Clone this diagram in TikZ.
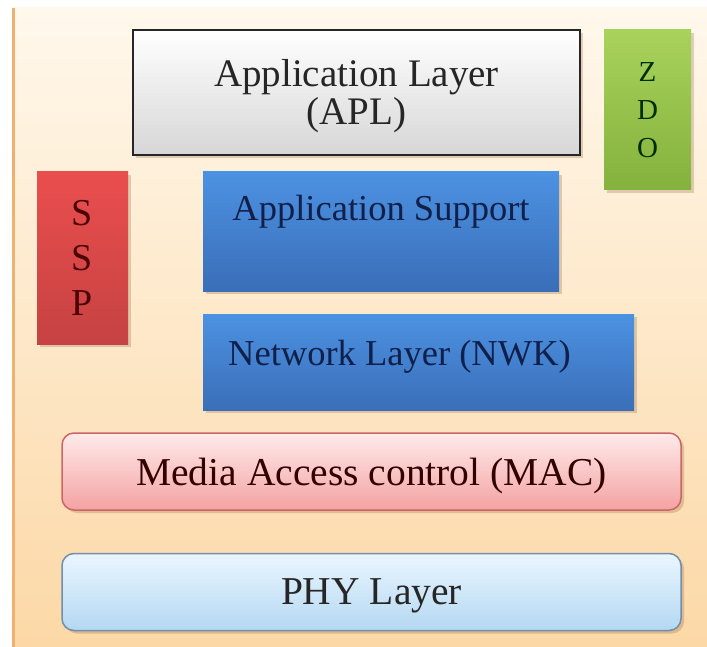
\documentclass[tikz,border=0pt]{standalone}
\usepackage{fontspec}
\setmainfont{Liberation Serif}
\usetikzlibrary{positioning, calc, shadows}
\definecolor{bgtop}{RGB}{255,248,236}
\definecolor{bgbottom}{RGB}{252,216,166}
\definecolor{bgedge}{RGB}{240,176,112}
\definecolor{bluetop}{RGB}{76,146,226}
\definecolor{bluebottom}{RGB}{58,110,184}
\definecolor{bluetext}{RGB}{16,32,74}
\definecolor{zdotop}{RGB}{168,210,92}
\definecolor{zdobottom}{RGB}{132,178,60}
\definecolor{ssptop}{RGB}{234,78,78}
\definecolor{sspbottom}{RGB}{198,66,66}
\definecolor{mactop}{RGB}{255,234,234}
\definecolor{macbottom}{RGB}{244,162,162}
\definecolor{macedge}{RGB}{204,102,102}
\definecolor{phytop}{RGB}{234,246,255}
\definecolor{phybottom}{RGB}{180,216,242}
\definecolor{phyedge}{RGB}{112,142,176}

\begin{document}
\begin{tikzpicture}[x=1pt, y=-1pt,
    layerbox/.style={rectangle, inner sep=0pt, align=center,
        drop shadow={shadow xshift=3pt, shadow yshift=-3pt, fill=brown!70!black, opacity=0.25}},
    bluebox/.style={layerbox, top color=bluetop, bottom color=bluebottom},
    bluelabel/.style={text=bluetext, font=\fontsize{36.5}{40}\selectfont},
    roundbox/.style={layerbox, rounded corners=12pt, line width=1.5pt, text depth=0pt,
        minimum width=619pt, minimum height=77pt, font=\fontsize{39.5}{44}\selectfont}]
    \useasboundingbox (0,0) rectangle (707,647);

    % Background panel
    \shade[top color=bgtop, bottom color=bgbottom] (13,8) rectangle (707,647);
    \draw[bgedge, line width=3pt] (13,8) -- (13,647);

    % Application layer
    \node[layerbox, draw=black!85, line width=2.5pt, top color=white, bottom color=black!16,
          minimum width=447pt, minimum height=125pt, text=black!85,
          font=\fontsize{39}{38}\selectfont] (apl) at (356.5,92.5) {};
    \node[text=black!85, align=center, font=\fontsize{39}{38}\selectfont]
          (apllabel) at ($(apl.center)+(0,4)$) {Application Layer\\(APL)};

    % Side blocks
    \node[layerbox, top color=zdotop, bottom color=zdobottom, minimum width=87pt,
          minimum height=160pt, text=black!70!green!60!black,
          font=\fontsize{29}{38}\selectfont] (zdo) at (647.5,110) {Z\\D\\O};
    \node[layerbox, top color=ssptop, bottom color=sspbottom, minimum width=91pt,
          minimum height=172pt, text=red!30!black,
          font=\fontsize{38}{45}\selectfont] (ssp) at (82.5,258) {S\\S\\P};

    % Blue layers
    \node[bluebox, minimum width=356pt, minimum height=119pt] (aps) at (381,231.5) {};
    \node[bluelabel] (apslabel) at ($(aps.north)+(0,40)$) {Application Support};
    \node[bluebox, minimum width=431pt, minimum height=96pt] (nwk) at (418.5,362) {};
    \node[bluelabel] (nwklabel) at ($(nwk.center)+(-19,-5)$) {Network Layer (NWK)};

    % Bottom layers
    \node[roundbox, draw=macedge, top color=mactop, bottom color=macbottom, text=black!80!red]
          (mac) at (371.5,471.5) {Media Access control (MAC)};
    \node[roundbox, draw=phyedge, top color=phytop, bottom color=phybottom, text=black!85]
          (phy) at (371.5,592) {PHY Layer};
\end{tikzpicture}
\end{document}
